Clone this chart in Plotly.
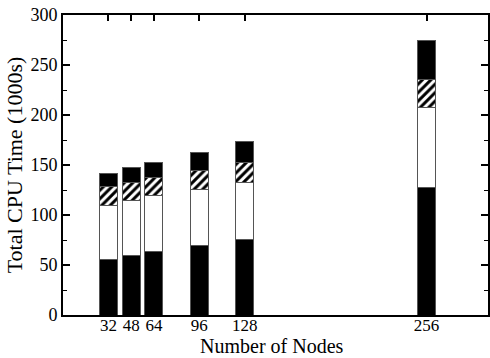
import plotly.graph_objects as go

nodes = [32, 48, 64, 96, 128, 256]
# cumulative tops (1000s of CPU seconds)
bottom_black = [56, 60, 64, 69.5, 76, 128]
white_top = [110, 114.5, 119.5, 126, 132.5, 207.5]
hatch_top = [129, 133, 138, 145, 153, 235.5]
total_top = [142, 148, 153, 163, 174, 275]

white = [w - b for w, b in zip(white_top, bottom_black)]
hatch = [h - w for h, w in zip(hatch_top, white_top)]
top_black = [t - h for t, h in zip(total_top, hatch_top)]

bar_w = 12.6
line = dict(color="#555555", width=1)

fig = go.Figure()
fig.add_bar(x=nodes, y=bottom_black, width=bar_w, marker=dict(color="black", line=line))
fig.add_bar(x=nodes, y=white, width=bar_w, marker=dict(color="white", line=line))
fig.add_bar(x=nodes, y=hatch, width=bar_w,
            marker=dict(color="white", line=line,
                        pattern=dict(shape="/", fgcolor="black", bgcolor="white",
                                     size=6, solidity=0.5, fillmode="replace")))
fig.add_bar(x=nodes, y=top_black, width=bar_w, marker=dict(color="black", line=line))

font = "Liberation Serif, Times New Roman, serif"
fig.update_layout(
    barmode="stack",
    width=490, height=358,
    margin=dict(l=63, r=0, t=15, b=43),
    plot_bgcolor="white", paper_bgcolor="white",
    showlegend=False,
    font=dict(family=font, color="black", size=18),
    annotations=[dict(text="Number of Nodes", xref="paper", yref="paper",
                      x=(272.5 - 63) / 427, y=-43 / 300,
                      xanchor="center", yanchor="bottom", showarrow=False,
                      borderpad=0, font=dict(family=font, size=20))],
)
fig.update_xaxes(
    range=[0, 299.3], tickvals=nodes, ticktext=[str(n) for n in nodes],
    ticks="inside", ticklen=6, tickwidth=1.5, tickcolor="black",
    showline=True, linecolor="black", linewidth=2, mirror="ticks",
    showgrid=False, zeroline=False, ticklabelstandoff=-6,
    tickfont=dict(family=font, size=17),
)
fig.update_yaxes(
    range=[0, 300], tickvals=[0, 50, 100, 150, 200, 250, 300],
    ticks="inside", ticklen=7, tickwidth=1.5, tickcolor="black",
    minor=dict(tickvals=[25, 75, 125, 175, 225, 275], ticks="inside", ticklen=4,
               tickwidth=1, tickcolor="black"),
    showline=True, linecolor="black", linewidth=2, mirror="ticks",
    showgrid=False, zeroline=False,
    tickfont=dict(family=font, size=18),
    title=dict(text="Total CPU Time (1000s)", font=dict(family=font, size=22), standoff=2),
)

fig.write_html("out.html")
